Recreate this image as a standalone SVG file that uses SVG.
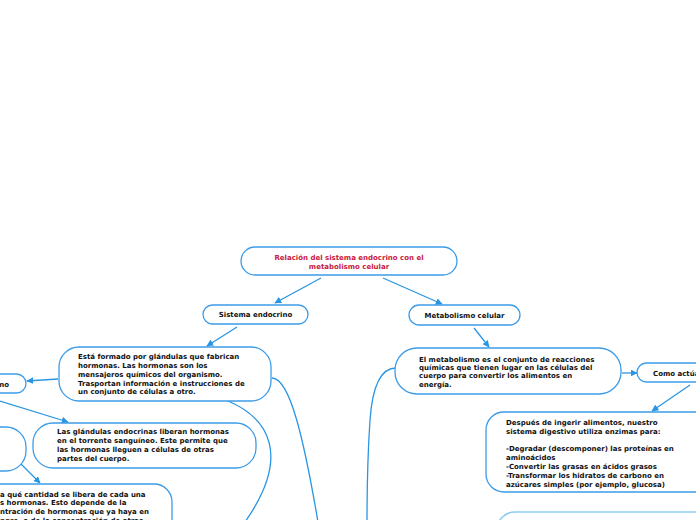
<svg xmlns="http://www.w3.org/2000/svg" width="696" height="520" viewBox="0 0 696 520">
<defs>
<marker id="ah" viewBox="0 0 10 10" refX="9" refY="5" markerWidth="7" markerHeight="7" markerUnits="userSpaceOnUse" orient="auto">
<path d="M0,0 L10,5 L0,10 z" fill="#2a96e3"/>
</marker>
<style>
.n{fill:#fff;stroke:#3d9ce8;stroke-width:1.3}
.nl{fill:#fff;stroke:#8ccdf2;stroke-width:1.6}
.t{font-family:"DejaVu Sans",Verdana,sans-serif;font-weight:bold;font-size:7px;fill:#111}
.r{fill:#c8173c}
.c{fill:none;stroke:#2a96e3;stroke-width:1.3}
.a{marker-end:url(#ah)}
</style>
</defs>
<rect width="696" height="520" fill="#fff"/>
<g id="connectors">
<line class="c a" x1="321" y1="278" x2="275" y2="303"/>
<line class="c a" x1="383" y1="278" x2="442" y2="304"/>
<line class="c a" x1="237" y1="327" x2="207" y2="346"/>
<line class="c a" x1="474" y1="328" x2="489" y2="347"/>
<line class="c a" x1="58" y1="379" x2="27" y2="381"/>
<line class="c a" x1="0" y1="401" x2="68" y2="422"/>
<line class="c a" x1="21" y1="464" x2="40" y2="483"/>
<line class="c a" x1="622" y1="373" x2="637" y2="373"/>
<line class="c a" x1="690" y1="385" x2="652" y2="411"/>
<path class="c" d="M228,401 C268,418 292,455 245,522"/>
<path class="c" d="M272,378 C290,378 304,440 318,522"/>
<path class="c" d="M396,368 C378,368 372,392 370,420 C368,450 367,485 367,522"/>
</g>
<g id="root">
<rect class="n" x="241" y="247" width="216" height="28" rx="14"/>
<text class="t r" x="349" y="259.5" text-anchor="middle">Relación del sistema endocrino con el</text>
<text class="t r" x="349" y="268.5" text-anchor="middle">metabolismo celular</text>
</g>
<g id="sistema">
<rect class="n" x="203" y="305" width="105" height="19" rx="9.5"/>
<text class="t" x="255.5" y="317" text-anchor="middle">Sistema endocrino</text>
</g>
<g id="metabolismo">
<rect class="n" x="409" y="305" width="111" height="20" rx="10"/>
<text class="t" x="464.5" y="318" text-anchor="middle">Metabolismo celular</text>
</g>
<g id="formado">
<rect class="n" x="59" y="347" width="212" height="54" rx="20"/>
<text class="t" x="78" y="359.2">Está formado por glándulas que fabrican</text>
<text class="t" x="78" y="368">hormonas. Las hormonas son los</text>
<text class="t" x="78" y="376.7">mensajeros químicos del organismo.</text>
<text class="t" x="78" y="385.5">Trasportan información e instrucciones de</text>
<text class="t" x="78" y="394.2">un conjunto de células a otro.</text>
</g>
<g id="leftno">
<rect class="n" x="-60" y="374" width="86" height="19" rx="9.5"/>
<text class="t" x="9" y="386.5" text-anchor="end">no</text>
</g>
<g id="glandulas">
<rect class="n" x="33" y="423" width="223" height="45" rx="20"/>
<text class="t" x="57" y="434.2">Las glándulas endocrinas liberan hormonas</text>
<text class="t" x="57" y="443.1">en el torrente sanguíneo. Este permite que</text>
<text class="t" x="57" y="452">las hormonas lleguen a células de otras</text>
<text class="t" x="57" y="460.9">partes del cuerpo.</text>
</g>
<g id="leftround">
<rect class="n" x="-60" y="427" width="86" height="44" rx="20"/>
</g>
<g id="cantidad">
<rect class="n" x="-100" y="484" width="272" height="80" rx="18"/>
<text class="t" x="0" y="496.5">a qué cantidad se libera de cada una</text>
<text class="t" x="0" y="505.3">s hormonas. Esto depende de la</text>
<text class="t" x="0" y="514.1">ntración de hormonas que ya haya en</text>
<text class="t" x="0" y="522.9">ngre, o de la concentración de otras</text>
</g>
<g id="metabdef">
<rect class="n" x="395" y="348" width="226" height="46" rx="22"/>
<text class="t" x="419" y="361.5">El metabolismo es el conjunto de reacciones</text>
<text class="t" x="419" y="369.8">químicas que tienen lugar en las células del</text>
<text class="t" x="419" y="378.2">cuerpo para convertir los alimentos en</text>
<text class="t" x="419" y="386.5">energía.</text>
</g>
<g id="como">
<rect class="n" x="637" y="363" width="90" height="19" rx="9.5"/>
<text class="t" x="653" y="376">Como actúa</text>
</g>
<g id="despues">
<rect class="n" x="486" y="412" width="230" height="80" rx="18"/>
<text class="t" x="506" y="424.8">Después de ingerir alimentos, nuestro</text>
<text class="t" x="506" y="433.7">sistema digestivo utiliza enzimas para:</text>
<text class="t" x="506" y="451.4">-Degradar (descomponer) las proteínas en</text>
<text class="t" x="506" y="460.2">aminoácidos</text>
<text class="t" x="506" y="469.1">-Convertir las grasas en ácidos grasos</text>
<text class="t" x="506" y="478">-Transformar los hidratos de carbono en</text>
<text class="t" x="506" y="486.8">azúcares simples (por ejemplo, glucosa)</text>
</g>
<g id="bottomright">
<rect class="nl" x="497" y="512" width="230" height="80" rx="18"/>
<text class="t" x="515" y="525.5">El metabolismo</text>
</g>
</svg>
